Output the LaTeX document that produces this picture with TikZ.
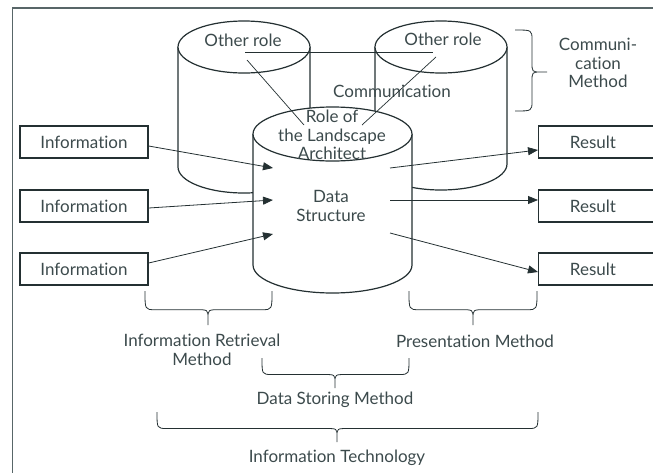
\documentclass[tikz,border=0pt]{standalone}
\usepackage{fontspec}
\setmainfont{Lato}[Ligatures=NoCommon]
\usetikzlibrary{arrows.meta}
\definecolor{inkline}{RGB}{36,48,50}
\definecolor{inktext}{RGB}{60,74,76}
\definecolor{frameline}{RGB}{88,102,104}

% cylinder: centre x, top y, bottom y, x radius, top y radius, bottom y radius
\newcommand\drum[6]{%
  \fill[white] ({#1-#4},#2) -- ({#1-#4},#3)
    .. controls ({#1-#4},{#3+0.5523*#6}) and ({#1-0.5523*#4},{#3+#6}) .. (#1,{#3+#6})
    .. controls ({#1+0.5523*#4},{#3+#6}) and ({#1+#4},{#3+0.5523*#6}) .. ({#1+#4},#3)
    -- ({#1+#4},#2) -- cycle;
  \draw[cylline] ({#1-#4},#2) -- ({#1-#4},#3)
    .. controls ({#1-#4},{#3+0.5523*#6}) and ({#1-0.5523*#4},{#3+#6}) .. (#1,{#3+#6})
    .. controls ({#1+0.5523*#4},{#3+#6}) and ({#1+#4},{#3+0.5523*#6}) .. ({#1+#4},#3)
    -- ({#1+#4},#2);
  \filldraw[cylline, fill=white] (#1,#2) ellipse[x radius=#4, y radius=#5];
}
% downward curly brace: left x, right x, tip x, top y, depth
\newcommand\bracedown[5]{%
  \draw[braceline] (#1,#4) .. controls (#1,{#4+0.55*#5}) .. ({#1+10},{#4+0.55*#5})
    -- ({#3-12},{#4+0.55*#5}) .. controls (#3,{#4+0.55*#5}) .. (#3,{#4+0.8*#5}) -- (#3,{#4+#5})
    (#3,{#4+0.8*#5}) .. controls (#3,{#4+0.55*#5}) .. ({#3+12},{#4+0.55*#5})
    -- ({#2-10},{#4+0.55*#5}) .. controls (#2,{#4+0.55*#5}) .. (#2,#4);
}

\begin{document}
\begin{tikzpicture}[x=1pt, y=-1pt,
  cylline/.style={draw=inkline, line width=1.2pt},
  braceline/.style={draw=inkline, line width=0.8pt},
  thinline/.style={draw=inkline, line width=0.7pt},
  flow/.style={draw=inkline, line width=0.8pt, -{Triangle[length=10pt,width=8pt]}},
  lbl/.style={text=inktext, font=\fontsize{17}{18.8}\selectfont, inner sep=0pt, align=center},
  infobox/.style={draw=inkline, line width=1.3pt, minimum width=128pt, minimum height=32pt,
    inner sep=0pt, text=inktext, font=\fontsize{17}{18.8}\selectfont},
  resbox/.style={draw=inkline, line width=1.3pt, minimum width=130pt, minimum height=32pt,
    inner sep=0pt, anchor=west}]
\useasboundingbox (0,0) rectangle (653,472);
\clip (0,0) rectangle (653,472);

% outer frame (open to the right and bottom)
\draw[frameline, line width=1.2pt] (12.5,480) -- (12.5,8) -- (665,8);

% the two other roles behind
\drum{244}{47}{167}{66}{26}{26}
\drum{441}{47}{164}{66}{26}{26}

\node[lbl] (otherL) at (243,40) {Other role};
\node[lbl] (otherR) at (443,39) {Other role};
\node[lbl] (comm) at (392,91) {Communication};

% communication links
\coordinate (lkL) at (245,52);
\coordinate (lkR) at (433,52);
\draw[thinline] (lkL) -- (lkR);

% front cylinder: the landscape architect's data structure
\drum{332.5}{134}{265}{79.5}{27}{28}
\node[lbl] (role) at (332,135) {Role of\\the Landscape\\Architect};
\node[lbl] (data) at (331,206) {Data\\Structure};

\coordinate (dL1) at (247,60);
\coordinate (dL2) at (304,125);
\coordinate (dR1) at (436,57);
\coordinate (dR2) at (362,125);
\draw[thinline] (dL1) -- (dL2);
\draw[thinline] (dR1) -- (dR2);

% inputs
\node[infobox] (info1) at (84,142) {Information};
\node[infobox] (info2) at (84,206) {Information};
\node[infobox] (info3) at (84,269) {Information};
\coordinate (in1) at (273,168);
\coordinate (in2) at (273,200);
\coordinate (in3) at (273,234);
\draw[flow] ([yshift=-4pt]info1.east) -- (in1);
\draw[flow] ([yshift=-2pt]info2.east) -- (in2);
\draw[flow] ([yshift=6pt]info3.east) -- (in3);

% outputs
\node[resbox] (res1) at (538,142) {};
\node[resbox] (res2) at (538,206) {};
\node[resbox] (res3) at (538,269) {};
\node[lbl] (rt1) at ([xshift=55pt]res1.west) {Result};
\node[lbl] (rt2) at ([xshift=55pt]res2.west) {Result};
\node[lbl] (rt3) at ([xshift=55pt]res3.west) {Result};
\coordinate (out1) at (390,168);
\coordinate (out2) at (390,200);
\coordinate (out3) at (390,233);
\draw[flow] (out1) -- ([yshift=-8pt]res1.west);
\draw[flow] (out2) -- ([yshift=6pt]res2.west);
\draw[flow] (out3) -- ([yshift=-3pt]res3.west);

% braces and their labels
\draw[braceline] (515,30) .. controls (532,30) .. (532,40) -- (532,62)
  .. controls (532,72) .. (541,72) -- (547,72) (541,72) .. controls (532,72) .. (532,82)
  -- (532,101) .. controls (532,111) .. (515,111);
\node[lbl] (cmeth) at (598,63) {Communi-\\cation\\Method};

\bracedown{145}{272}{208}{291}{34}
\node[lbl] (irm) at (202,350) {Information Retrieval\\Method};
\bracedown{409}{537}{473}{291}{34}
\node[lbl] (pm) at (475,341) {Presentation Method};
\bracedown{262}{409}{335}{358}{30}
\node[lbl] (dsm) at (335,400) {Data Storing Method};
\bracedown{157}{538}{337}{412}{30}
\node[lbl] (itm) at (337,458) {Information Technology};
\end{tikzpicture}
\end{document}
